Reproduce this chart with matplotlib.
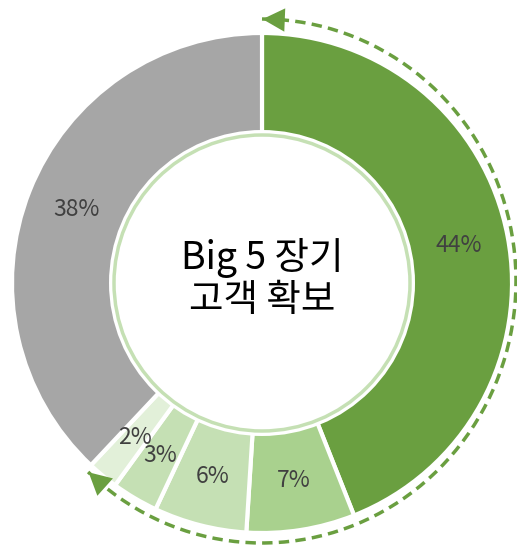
import numpy as np
import matplotlib.pyplot as plt
from matplotlib.patches import Circle

plt.rcParams['font.family'] = ['Noto Sans CJK KR', 'DejaVu Sans']

# Data
labels = ["44%", "7%", "6%", "3%", "2%", "38%"]
shares = [44, 7, 6, 3, 2, 38]
colors = ["#6A9F40", "#A9D18E", "#C5E0B4", "#C5E0B4", "#E2F0D9", "#A6A6A6"]
center_text = "Big 5 장기\n고객 확보"

W, H = 517, 545
cx, cy = 262, H - 283
R = 250

fig = plt.figure(figsize=(W / 100, H / 100), dpi=100)
ax = fig.add_axes([0, 0, 1, 1])

wedges, texts, autotexts = ax.pie(
    shares, colors=colors, startangle=90, counterclock=False,
    center=(cx, cy), radius=R, autopct="%d%%", pctdistance=0.8,
    wedgeprops=dict(width=100, edgecolor="white", linewidth=3),
    textprops=dict(color="#404040", fontsize=16.5))

# inner circle with light green ring
ax.add_patch(Circle((cx, cy), 153, facecolor="white", edgecolor="none", zorder=3))
ax.add_patch(Circle((cx, cy), 148, facecolor="white", edgecolor="#C5E0B4",
                    linewidth=2.5, zorder=4))
ax.text(cx, cy + 4, center_text, ha="center", va="center", fontsize=27,
        color="black", linespacing=1.1, zorder=5)

# dashed arrow arc around the green part
acy = H - 281
rx, ry = 254, 262
end_ang = 90 - sum(shares[:5]) / 100 * 360
th = np.radians(np.linspace(90, end_ang, 200))
ax.plot(cx + rx * np.cos(th), acy + ry * np.sin(th), color="#6A9F40",
        lw=2.5, dashes=(3, 1.8), zorder=2)


def head(a_tip, a_back):
    t1, t0 = np.radians(a_tip), np.radians(a_back)
    ax.annotate("", xy=(cx + rx * np.cos(t1), acy + ry * np.sin(t1)),
                xytext=(cx + rx * np.cos(t0), acy + ry * np.sin(t0)),
                arrowprops=dict(arrowstyle="-|>,head_length=0.8,head_width=0.42",
                                color="#6A9F40", lw=0, mutation_scale=20),
                zorder=3)


head(90.5, 85)
head(end_ang - 0.5, end_ang + 5)

ax.set_xlim(0, W)
ax.set_ylim(0, H)
ax.set_aspect("equal")
ax.axis("off")
fig.savefig("out.png", dpi=100)
